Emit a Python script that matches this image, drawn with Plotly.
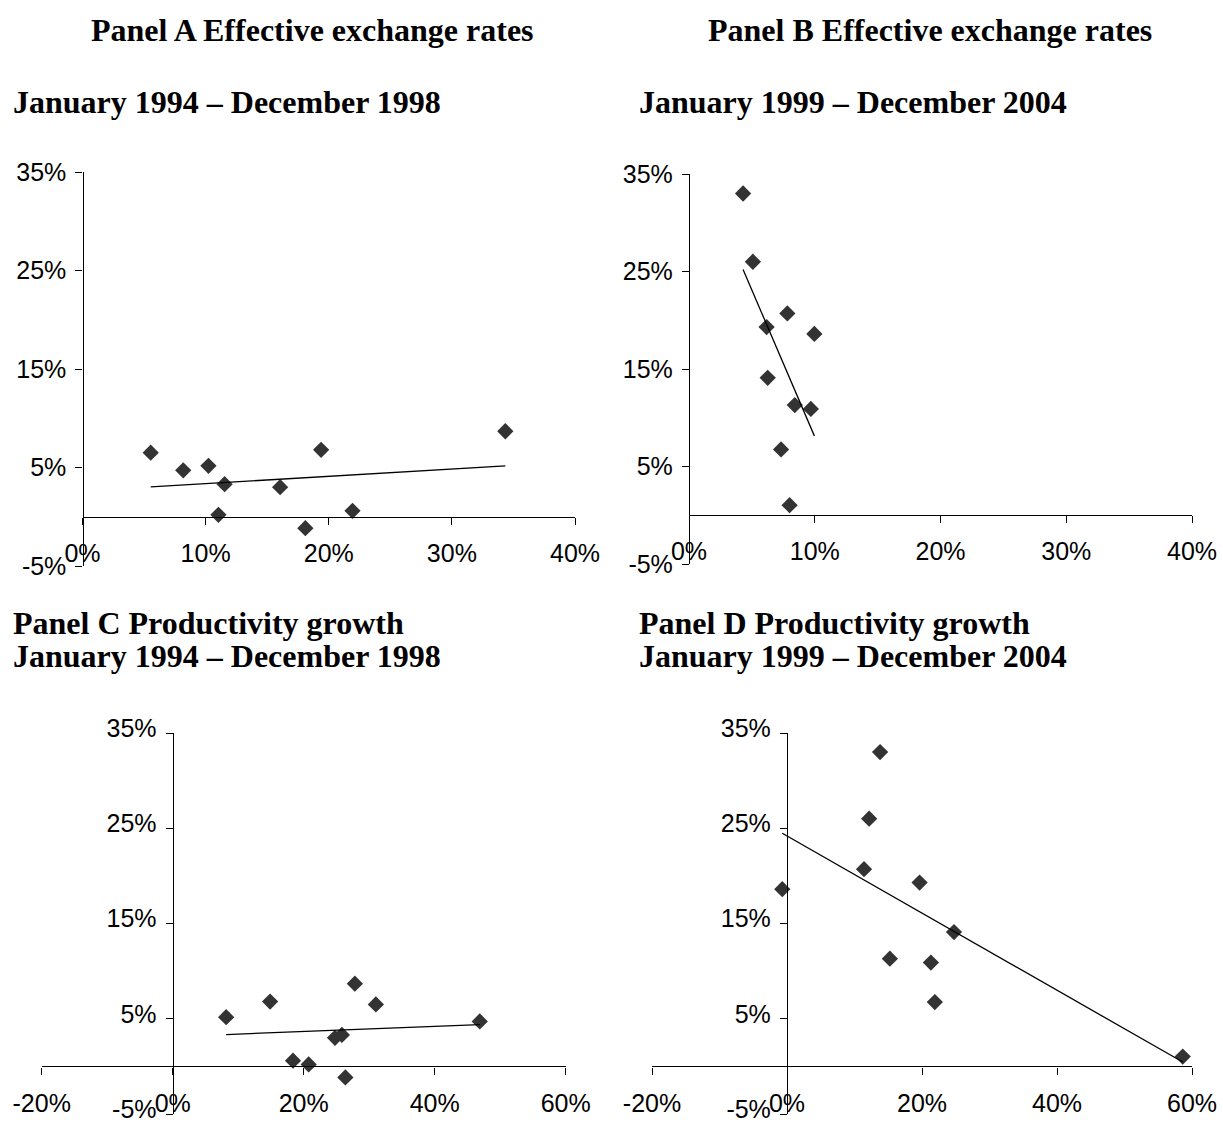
import numpy as np
import plotly.graph_objects as go

# ---------------- data (percent) ----------------
# Period 1: January 1994 - December 1998 (same countries, same y in Panels A and C)
return_p1 = [6.5, 4.72, 5.17, 3.3, 0.2, 3.0, -1.16, 6.8, 0.6, 8.68]
eer_p1 = [5.54, 8.18, 10.23, 11.54, 11.04, 16.05, 18.1, 19.38, 21.93, 34.34]
prod_p1 = [31.02, 46.88, 8.16, 25.83, 20.76, 24.78, 26.36, 14.87, 18.37, 27.81]

# Period 2: January 1999 - December 2004 (Panels B and D)
return_p2 = [33.0, 26.0, 19.3, 20.7, 18.6, 14.1, 11.3, 10.9, 6.75, 1.03]
eer_p2 = [4.3, 5.08, 6.17, 7.82, 9.97, 6.26, 8.41, 9.69, 7.32, 8.0]
prod_p2 = [13.79, 12.17, 19.64, 11.41, -0.70, 24.74, 15.24, 21.32, 21.9, 58.63]

y_ticks = [-5, 5, 15, 25, 35]
x_ticks_eer = [0, 10, 20, 30, 40]
x_ticks_prod = [-20, 0, 20, 40, 60]

titles = [
    ("Panel A Effective exchange rates", "January 1994 – December 1998"),
    ("Panel B Effective exchange rates", "January 1999 – December 2004"),
    ("Panel C Productivity growth", "January 1994 – December 1998"),
    ("Panel D Productivity growth", "January 1999 – December 2004"),
]

# ---------------- layout geometry (pixels) ----------------
W, H = 1223, 1128
TICK_FONT = dict(family="Liberation Sans, Arial", size=25, color="black")
TITLE_FONT = dict(family="Liberation Serif, Times New Roman", size=32, color="black")
MARK_COLOR = "#333333"

panels = [
    # x, y, xrange, xticks, box (left, right, top, bottom), y-label shift
    (eer_p1, return_p1, [0, 40], x_ticks_eer, (82.5, 575, 172, 566), 0),
    (eer_p2, return_p2, [0, 40], x_ticks_eer, (689, 1192, 174, 564), 0),
    (prod_p1, return_p1, [-20, 60], x_ticks_prod, (41.7, 565.7, 733, 1114), -5),
    (prod_p2, return_p2, [-20, 60], x_ticks_prod, (652, 1192, 733, 1114), -5),
]
YR = [-5, 35]

fig = go.Figure()
layout = {}
for i, (xs, ys, xr, xt, (l, r, t, b), yshift) in enumerate(panels, start=1):
    xa = "x" if i == 1 else f"x{i}"
    ya = "y" if i == 1 else f"y{i}"
    xkey = "xaxis" if i == 1 else f"xaxis{i}"
    ykey = "yaxis" if i == 1 else f"yaxis{i}"

    fig.add_trace(go.Scatter(
        x=xs, y=ys, mode="markers", xaxis=xa, yaxis=ya,
        marker=dict(symbol="diamond", size=12.5, color=MARK_COLOR, line=dict(width=0)),
        showlegend=False, hoverinfo="skip"))
    # linear trend line over the data range
    k, c = np.polyfit(xs, ys, 1)
    tx = np.array([min(xs), max(xs)])
    fig.add_trace(go.Scatter(
        x=tx, y=k * tx + c, mode="lines", xaxis=xa, yaxis=ya,
        line=dict(color="black", width=1.3), showlegend=False, hoverinfo="skip"))

    dom_x = [l / W, r / W]
    dom_y = [1 - b / H, 1 - t / H]
    # paper positions where the axes cross zero
    zero_y_paper = dom_y[0] + (0 - YR[0]) / (YR[1] - YR[0]) * (dom_y[1] - dom_y[0])
    zero_x_paper = dom_x[0] + (0 - xr[0]) / (xr[1] - xr[0]) * (dom_x[1] - dom_x[0])

    layout[xkey] = dict(
        domain=dom_x, range=xr, anchor="free", position=zero_y_paper, automargin=False,
        showline=True, linecolor="black", linewidth=1.3, showgrid=False, zeroline=False,
        ticks="outside", ticklen=7, tickwidth=1.3, tickcolor="black",
        tickvals=xt, ticktext=[f"{v}%" for v in xt], tickfont=TICK_FONT,
        ticklabelstandoff=7, ticklabeloverflow="allow", fixedrange=True)
    layout[ykey] = dict(
        domain=dom_y, range=YR, anchor="free", position=zero_x_paper, automargin=False,
        showline=True, linecolor="black", linewidth=1.3, showgrid=False, zeroline=False,
        ticks="outside", ticklen=7, tickwidth=1.3, tickcolor="black",
        tickvals=y_ticks, ticktext=[f"{v}%" for v in y_ticks], tickfont=TICK_FONT,
        ticklabelstandoff=4, ticklabelshift=yshift, ticklabeloverflow="allow", fixedrange=True)

# ---------------- titles ----------------
title_pos = [
    # (main x, main anchor, main y, sub x, sub y)
    (312, "center", 30.5, 11, 101.5),
    (930, "center", 30.5, 637, 101.5),
    (11, "left", 623, 11, 656),
    (637, "left", 623, 637, 656),
]
annotations = []
for (main, sub), (mx, manc, my, sx, sy) in zip(titles, title_pos):
    annotations.append(dict(text=f"<b>{main}</b>", x=mx / W, y=1 - my / H, xref="paper", yref="paper",
                            xanchor=manc, yanchor="middle", showarrow=False, font=TITLE_FONT))
    annotations.append(dict(text=f"<b>{sub}</b>", x=sx / W, y=1 - sy / H, xref="paper", yref="paper",
                            xanchor="left", yanchor="middle", showarrow=False, font=TITLE_FONT))

fig.update_layout(
    width=W, height=H, margin=dict(l=0, r=0, t=0, b=0, autoexpand=False),
    paper_bgcolor="white", plot_bgcolor="rgba(0,0,0,0)",
    annotations=annotations, **layout)

fig.write_html("out.html", config={"displayModeBar": False},
               post_script="document.body.style.margin='0';document.body.style.overflow='hidden';")
